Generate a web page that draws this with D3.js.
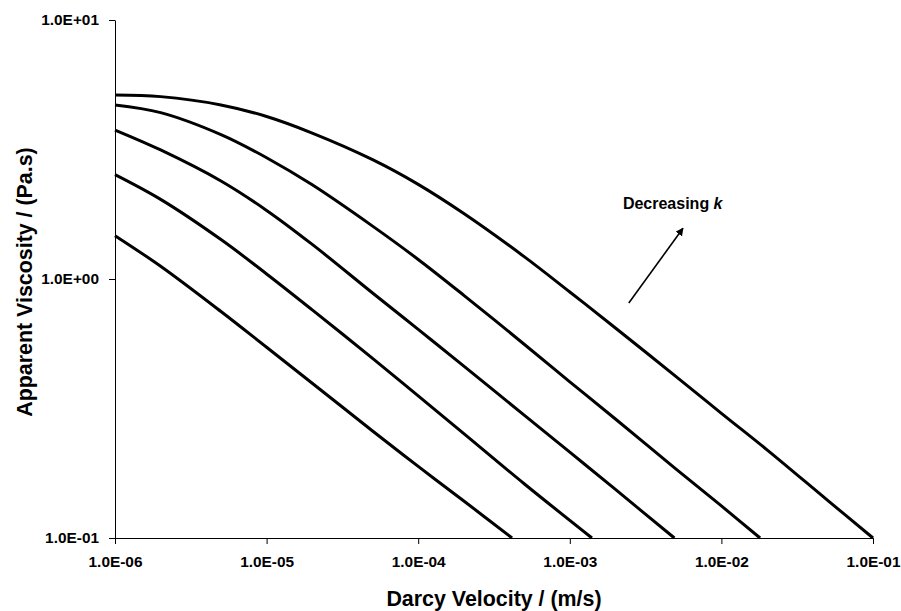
<!DOCTYPE html>
<html>
<head>
<meta charset="utf-8">
<script src="https://cdn.jsdelivr.net/npm/d3@7"></script>
<style>
  html, body { margin: 0; padding: 0; background: #fff; }
  svg { display: block; }
  text { font-family: "Liberation Sans", Arial, sans-serif; font-weight: bold; fill: #000; }
</style>
</head>
<body>
<svg id="chart" width="901" height="611"></svg>
<script>
// ---- data ----
const xTickValues = [1e-6, 1e-5, 1e-4, 1e-3, 1e-2, 1e-1];
const xTickLabels = ["1.0E-06", "1.0E-05", "1.0E-04", "1.0E-03", "1.0E-02", "1.0E-01"];
const yTickValues = [0.1, 1, 10];
const yTickLabels = ["1.0E-01", "1.0E+00", "1.0E+01"];

const curveA_x = [1e-6, 2e-6, 5e-6, 1e-5, 2e-5, 5e-5, 1e-4, 2e-4, 5e-4, 1e-3, 2e-3, 5e-3, 1e-2, 2e-2, 5e-2, 1e-1];
const curveA_y = [5.13, 5.06, 4.70, 4.24, 3.66, 2.89, 2.32, 1.79, 1.22, 0.891, 0.647, 0.421, 0.303, 0.219, 0.140, 0.100];
const curveB_x = [1e-6, 2e-6, 5e-6, 1e-5, 2e-5, 5e-5, 1e-4, 2e-4, 5e-4, 1e-3, 2e-3, 5e-3, 1e-2, 1.8e-2];
const curveB_y = [4.70, 4.39, 3.61, 2.94, 2.31, 1.60, 1.19, 0.865, 0.560, 0.401, 0.288, 0.185, 0.133, 0.100];
const curveC_x = [1e-6, 2e-6, 5e-6, 1e-5, 2e-5, 5e-5, 1e-4, 2e-4, 5e-4, 1e-3, 2e-3, 4.9e-3];
const curveC_y = [3.76, 3.15, 2.39, 1.84, 1.36, 0.883, 0.639, 0.461, 0.298, 0.2145, 0.154, 0.100];
const curveD_x = [1e-6, 2e-6, 5e-6, 1e-5, 2e-5, 5e-5, 1e-4, 2e-4, 5e-4, 1.4e-3];
const curveD_y = [2.53, 2.03, 1.42, 1.046, 0.760, 0.494, 0.354, 0.253, 0.162, 0.100];
const curveE_x = [1e-6, 2e-6, 5e-6, 1e-5, 2e-5, 5e-5, 1e-4, 2e-4, 4.16e-4];
const curveE_y = [1.47, 1.12, 0.749, 0.545, 0.396, 0.259, 0.189, 0.139, 0.100];

const arrowFrom = [2.45e-3, 0.808];
const arrowTo = [5.58e-3, 1.57];
const annotationPos = [2.24e-3, 1.86];
const annotationText = "Decreasing ";
const annotationItalic = "k";
const xTitle = "Darcy Velocity / (m/s)";
const yTitle = "Apparent Viscosity / (Pa.s)";

// ---- layout ----
const svg = d3.select("#chart");
const margin = {left: 115, top: 20, right: 28, bottom: 73};
const W = 901, H = 611;
const x = d3.scaleLog().domain([1e-6, 1e-1]).range([margin.left, W - margin.right]);
const y = d3.scaleLog().domain([0.1, 10]).range([H - margin.bottom, margin.top]);

const series = [
  curveA_x.map((v, i) => [v, curveA_y[i]]),
  curveB_x.map((v, i) => [v, curveB_y[i]]),
  curveC_x.map((v, i) => [v, curveC_y[i]]),
  curveD_x.map((v, i) => [v, curveD_y[i]]),
  curveE_x.map((v, i) => [v, curveE_y[i]])
];

const line = d3.line().x(d => x(d[0])).y(d => y(d[1])).curve(d3.curveCatmullRom.alpha(0.5));

svg.append("g").selectAll("path").data(series).join("path")
  .attr("d", line)
  .attr("fill", "none")
  .attr("stroke", "#000")
  .attr("stroke-width", 3)
  .attr("stroke-linejoin", "round");

// axes
const xAxis = d3.axisBottom(x).tickValues(xTickValues)
  .tickFormat((d, i) => xTickLabels[i]).tickSizeOuter(0).tickSizeInner(6).tickPadding(12);
const gx = svg.append("g").attr("transform", `translate(0,${y(0.1)})`).call(xAxis);

const yAxis = d3.axisLeft(y).tickValues(yTickValues)
  .tickFormat((d, i) => yTickLabels[i]).tickSizeOuter(0).tickSizeInner(6).tickPadding(10);
const gy = svg.append("g").attr("transform", `translate(${x(1e-6)},0)`).call(yAxis);

[gx, gy].forEach(g => {
  g.select(".domain").attr("stroke", "#000").attr("stroke-width", 1);
  g.selectAll(".tick line").attr("stroke", "#000").attr("stroke-width", 1);
  g.selectAll(".tick text").attr("font-family", "Liberation Sans, Arial, sans-serif")
    .attr("font-weight", "bold").attr("font-size", "15.4px").attr("fill", "#000");
});

// titles
svg.append("text")
  .attr("x", (x.range()[0] + x.range()[1]) / 2)
  .attr("y", 606)
  .attr("text-anchor", "middle")
  .attr("font-size", "21.4px")
  .text(xTitle);

svg.append("text")
  .attr("transform", `translate(32,${(y.range()[0] + y.range()[1]) / 2 + 3}) rotate(-90)`)
  .attr("text-anchor", "middle")
  .attr("font-size", "21.4px")
  .text(yTitle);

// annotation
const ann = svg.append("text")
  .attr("x", x(annotationPos[0]))
  .attr("y", y(annotationPos[1]))
  .attr("font-size", "16px");
ann.append("tspan").text(annotationText);
ann.append("tspan").attr("font-style", "italic").text(annotationItalic);

// arrow
svg.append("defs").append("marker")
  .attr("id", "ah").attr("viewBox", "0 0 10 10")
  .attr("refX", 9).attr("refY", 5)
  .attr("markerWidth", 5).attr("markerHeight", 5)
  .attr("markerUnits", "strokeWidth")
  .attr("orient", "auto")
  .append("path").attr("d", "M0,0 L10,5 L0,10 z").attr("fill", "#000");

svg.append("line")
  .attr("x1", x(arrowFrom[0])).attr("y1", y(arrowFrom[1]))
  .attr("x2", x(arrowTo[0])).attr("y2", y(arrowTo[1]))
  .attr("stroke", "#000").attr("stroke-width", 1.6)
  .attr("marker-end", "url(#ah)");
</script>
</body>
</html>
